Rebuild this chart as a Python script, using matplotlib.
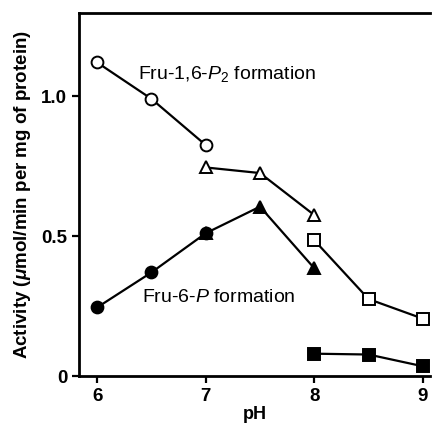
import matplotlib
matplotlib.use('Agg')
import matplotlib.pyplot as plt

plt.rcParams['font.family'] = ['Liberation Sans', 'DejaVu Sans']
plt.rcParams['mathtext.fontset'] = 'custom'
plt.rcParams['mathtext.it'] = 'Liberation Sans:italic'
plt.rcParams['mathtext.rm'] = 'Liberation Sans'
plt.rcParams['mathtext.sf'] = 'Liberation Sans:bold:italic'

# open symbols: Fru-1,6-P2 formation
oc_x = [6, 6.5, 7]
oc_y = [1.12, 0.99, 0.825]
ot_x = [7, 7.5, 8]
ot_y = [0.745, 0.725, 0.575]
os_x = [8, 8.5, 9]
os_y = [0.485, 0.275, 0.205]
# filled symbols: Fru-6-P formation
fc_x = [6, 6.5, 7]
fc_y = [0.245, 0.37, 0.51]
ft_x = [7, 7.5, 8]
ft_y = [0.51, 0.605, 0.385]
fs_x = [8, 8.5, 9]
fs_y = [0.08, 0.077, 0.035]

fig = plt.figure(figsize=(4.32, 4.24), dpi=100)
ax = fig.add_axes([0.183, 0.113, 0.812, 0.856])

kw = dict(color='black', lw=1.6, ms=8.5, mew=1.4)
ax.plot(oc_x, oc_y, marker='o', mfc='white', **kw)
ax.plot(ot_x, ot_y, marker='^', mfc='white', **kw)
ax.plot(os_x, os_y, marker='s', mfc='white', **kw)
ax.plot(fc_x, fc_y, marker='o', mfc='black', **kw)
ax.plot(ft_x, ft_y, marker='^', mfc='black', **kw)
ax.plot(fs_x, fs_y, marker='s', mfc='black', **kw)

ax.text(6.38, 1.08, r'Fru-1,6-$\mathit{P}_{2}$ formation', fontsize=14, va='center')
ax.text(6.41, 0.28, r'Fru-6-$\mathit{P}$ formation', fontsize=14, va='center')

ax.set_xlim(5.834, 9.064)
ax.set_ylim(0, 1.296)
ax.set_xticks([6, 7, 8, 9])
ax.set_xticklabels(['6', '7', '8', '9'])
ax.set_yticks([0, 0.5, 1.0])
ax.set_yticklabels(['0', '0.5', '1.0'])
for lab in ax.get_xticklabels() + ax.get_yticklabels():
    lab.set_fontweight('bold')
    lab.set_fontsize(13.5)
ax.tick_params(direction='out', length=5, width=1.6)
ax.spines['right'].set_visible(False)
for s in ['left', 'bottom', 'top']:
    ax.spines[s].set_linewidth(2)

ax.set_xlabel('pH', fontsize=13, fontweight='bold', labelpad=1)
ax.set_ylabel(r'Activity ($\mathsf{\mu}$mol/min per mg of protein)', fontsize=13.5,
              fontweight='bold', labelpad=6)

fig.savefig('out.png', dpi=100)
